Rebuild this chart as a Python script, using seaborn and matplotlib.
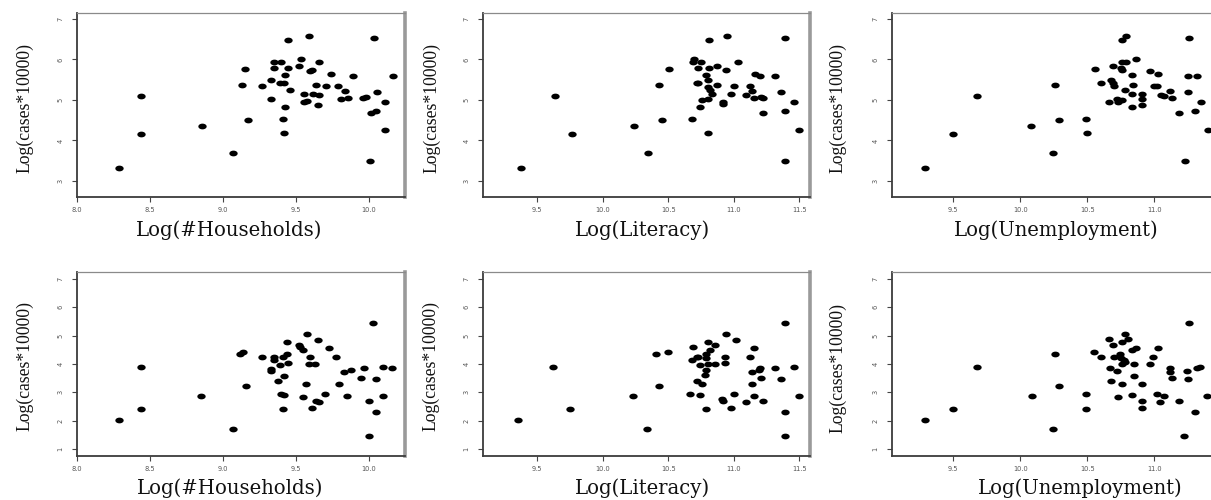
import numpy as np
import matplotlib
matplotlib.use("Agg")
import matplotlib.pyplot as plt
import seaborn as sns
from matplotlib.path import Path

# ---------------- data ----------------
# Top row: Log(cases*10000), first outcome; bottom row: second outcome
hh_top_x = [8.29, 8.44, 8.44, 8.86, 9.07, 9.13, 9.15, 9.17, 9.27, 9.33, 9.33, 9.35, 9.35, 9.40,
            9.39, 9.42, 9.43, 9.43, 9.41, 9.42, 9.45, 9.45, 9.46, 9.52, 9.54, 9.56, 9.56, 9.58,
            9.59, 9.60, 9.61, 9.62, 9.64, 9.65, 9.66, 9.66, 9.71, 9.74, 9.79, 9.81, 9.84, 9.86,
            9.89, 9.96, 9.98, 10.01, 10.02, 10.04, 10.05, 10.06, 10.11, 10.11, 10.17]
hh_top_y = [3.31, 4.17, 5.10, 4.37, 3.68, 5.38, 5.77, 4.50, 5.34, 5.49, 5.02, 5.94, 5.80, 5.94,
            5.41, 5.43, 5.62, 4.83, 4.53, 4.18, 6.48, 5.80, 5.24, 5.85, 6.00, 5.15, 4.94, 4.98,
            6.57, 5.71, 5.73, 5.15, 5.38, 4.88, 5.94, 5.13, 5.35, 5.64, 5.35, 5.03, 5.22, 5.06,
            5.60, 5.06, 5.08, 3.49, 4.67, 6.54, 4.72, 5.19, 4.96, 4.25, 5.59]

lit_top_x = [9.38, 9.64, 9.77, 10.24, 10.35, 10.43, 10.45, 10.51, 10.68, 10.69, 10.70, 10.72,
             10.73, 10.73, 10.75, 10.74, 10.76, 10.79, 10.80, 10.80, 10.80, 10.81, 10.81, 10.80,
             10.82, 10.83, 10.87, 10.87, 10.92, 10.92, 10.94, 10.95, 10.98, 11.00, 11.03, 11.09,
             11.12, 11.14, 11.15, 11.16, 11.20, 11.21, 11.22, 11.22, 11.31, 11.36, 11.39, 11.39,
             11.39, 11.46, 11.50]
lit_top_y = [3.31, 5.10, 4.17, 4.37, 3.68, 5.38, 4.50, 5.77, 4.53, 5.94, 6.00, 5.41, 5.43, 5.80,
             5.94, 4.83, 4.99, 5.62, 5.49, 5.33, 5.02, 6.48, 5.80, 4.19, 5.24, 5.15, 5.85, 5.38,
             4.94, 4.90, 5.73, 6.57, 5.15, 5.35, 5.94, 5.13, 5.35, 5.22, 5.06, 5.64, 5.60, 5.08,
             5.06, 4.67, 5.59, 5.19, 3.49, 6.54, 4.72, 4.96, 4.25]

un_top_x = [9.29, 9.50, 9.68, 10.08, 10.24, 10.26, 10.29, 10.49, 10.50, 10.555, 10.60, 10.66,
            10.68, 10.69, 10.70, 10.69, 10.72, 10.73, 10.76, 10.75, 10.76, 10.76, 10.79, 10.76,
            10.79, 10.78, 10.83, 10.84, 10.86, 10.83, 10.83, 10.91, 10.91, 10.91, 10.97, 11.03,
            11.00, 11.02, 11.05, 11.07, 11.12, 11.13, 11.18, 11.23, 11.25, 11.25, 11.26, 11.30,
            11.32, 11.35, 11.40]
un_top_y = [3.31, 4.17, 5.10, 4.37, 3.68, 5.38, 4.50, 4.53, 4.18, 5.77, 5.43, 4.94, 5.49, 5.41,
            5.35, 5.85, 5.02, 4.94, 4.99, 5.80, 5.75, 6.48, 6.57, 5.94, 5.94, 5.24, 5.62, 5.38,
            6.00, 5.15, 4.83, 5.15, 5.03, 4.88, 5.71, 5.64, 5.35, 5.35, 5.13, 5.09, 5.22, 5.06,
            4.67, 3.49, 5.59, 5.19, 6.54, 4.72, 5.59, 4.96, 4.25]

hh_bot_x = [8.29, 8.44, 8.44, 8.85, 9.07, 9.12, 9.14, 9.16, 9.27, 9.33, 9.33, 9.35, 9.35, 9.38,
            9.39, 9.40, 9.41, 9.42, 9.42, 9.41, 9.44, 9.44, 9.45, 9.52, 9.53, 9.55, 9.55, 9.57,
            9.58, 9.59, 9.60, 9.61, 9.63, 9.64, 9.65, 9.66, 9.70, 9.73, 9.78, 9.80, 9.83, 9.85,
            9.88, 9.95, 9.97, 10.00, 10.00, 10.03, 10.05, 10.05, 10.10, 10.10, 10.16]
hh_bot_y = [2.02, 2.42, 3.88, 2.88, 1.69, 4.36, 4.44, 3.22, 4.24, 3.81, 3.76, 4.26, 4.14, 3.41,
            3.95, 2.94, 4.26, 3.59, 2.89, 2.40, 4.76, 4.35, 4.02, 4.67, 4.60, 4.49, 2.82, 3.31,
            5.05, 4.00, 4.25, 2.45, 3.99, 2.69, 4.86, 2.65, 2.94, 4.55, 4.25, 3.31, 3.72, 2.87,
            3.78, 3.51, 3.87, 1.47, 2.71, 5.46, 2.32, 3.46, 3.88, 2.87, 3.86]

lit_bot_x = [9.36, 9.62, 9.75, 10.23, 10.34, 10.41, 10.43, 10.50, 10.67, 10.68, 10.69, 10.72,
             10.72, 10.73, 10.74, 10.74, 10.76, 10.78, 10.79, 10.79, 10.80, 10.79, 10.80, 10.79,
             10.82, 10.86, 10.86, 10.91, 10.92, 10.93, 10.94, 10.93, 10.98, 11.00, 11.02, 11.09,
             11.12, 11.14, 11.14, 11.15, 11.15, 11.19, 11.20, 11.21, 11.22, 11.31, 11.36, 11.39,
             11.39, 11.39, 11.46, 11.50]
lit_bot_y = [2.02, 3.88, 2.42, 2.88, 1.69, 4.35, 3.22, 4.44, 2.94, 4.14, 4.59, 3.41, 4.24, 4.26,
             3.95, 2.89, 3.31, 3.60, 3.80, 4.34, 4.76, 2.40, 4.00, 4.22, 4.48, 4.67, 4.00, 2.78,
             2.71, 4.25, 5.05, 4.02, 2.45, 2.94, 4.86, 2.65, 4.25, 3.72, 3.31, 4.55, 2.87, 3.78,
             3.87, 3.51, 2.71, 3.86, 3.46, 1.47, 5.46, 2.32, 3.88, 2.87]

un_bot_x = [9.29, 9.50, 9.68, 10.09, 10.24, 10.26, 10.29, 10.49, 10.49, 10.55, 10.60, 10.66,
            10.67, 10.68, 10.69, 10.70, 10.72, 10.73, 10.74, 10.76, 10.75, 10.76, 10.76, 10.77,
            10.78, 10.80, 10.78, 10.83, 10.83, 10.85, 10.86, 10.85, 10.91, 10.91, 10.91, 10.97,
            10.99, 11.02, 11.03, 11.04, 11.07, 11.12, 11.12, 11.13, 11.18, 11.24, 11.22, 11.25,
            11.26, 11.30, 11.32, 11.34, 11.39]
un_bot_y = [2.02, 2.42, 3.88, 2.88, 1.69, 4.35, 3.22, 2.94, 2.40, 4.44, 4.25, 4.89, 3.85, 3.41,
            4.67, 4.24, 3.75, 2.82, 4.35, 4.76, 4.22, 4.00, 3.31, 4.14, 5.05, 4.87, 4.06, 4.49,
            2.89, 4.00, 4.58, 3.59, 3.31, 2.71, 2.45, 4.00, 4.25, 2.94, 4.55, 2.65, 2.87, 3.87,
            3.72, 3.51, 2.71, 3.76, 1.47, 3.46, 5.46, 2.32, 3.86, 3.88, 2.87]

x_labels = ["Log(#Households)", "Log(Literacy)", "Log(Unemployment)"]
y_label = "Log(cases*10000)"
hh_ticks = [8.0, 8.5, 9.0, 9.5, 10.0]
lit_ticks = [9.5, 10.0, 10.5, 11.0, 11.5]
un_ticks = [9.5, 10.0, 10.5, 11.0]
top_yticks = [3, 4, 5, 6, 7]
bot_yticks = [1, 2, 3, 4, 5, 6, 7]

# ---------------- styling / layout ----------------
sns.set_style("white")
plt.rcParams["font.family"] = ["DejaVu Sans"]

W, H = 1211, 500
fig = plt.figure(figsize=(W / 100, H / 100), dpi=100)
fig.patch.set_facecolor("white")


def add_ax(x0, x1, y0, y1):
    return fig.add_axes([x0 / W, 1 - y1 / H, (x1 - x0) / W, (y1 - y0) / H])


t = np.linspace(0, 2 * np.pi, 48)
ellipse = Path(np.column_stack([1.45 * np.cos(t), np.sin(t)]), closed=True)

col_px = [(77, 405), (483, 810), (892, 1225)]
row_px = [(13, 197), (272, 456)]
col_xlim = [(8.0, 10.25), (9.09, 11.58), (9.042, 11.527)]
row_ylim = [(2.605, 7.148), (0.753, 7.247)]
col_ticks = [hh_ticks, lit_ticks, un_ticks]
row_yticks = [top_yticks, bot_yticks]

data = [[(hh_top_x, hh_top_y), (lit_top_x, lit_top_y), (un_top_x, un_top_y)],
        [(hh_bot_x, hh_bot_y), (lit_bot_x, lit_bot_y), (un_bot_x, un_bot_y)]]

xlabel_pos = [[(229, 230), (642, 230), (1056, 230)],
              [(230, 488), (642, 488), (1080, 488)]]
ylabel_pos = [[(25, 108), (432, 108), (838, 108)],
              [(25, 366), (431, 366), (838, 368)]]

for r in range(2):
    for c in range(3):
        x0, x1 = col_px[c]
        y0, y1 = row_px[r]
        ax = add_ax(x0, x1, y0, y1)
        xs, ys = data[r][c]
        sns.scatterplot(x=xs, y=ys, ax=ax, marker=ellipse, s=36, color="black",
                        edgecolor="black", linewidth=0, legend=False, zorder=3)
        ax.set_xlim(*col_xlim[c])
        ax.set_ylim(*row_ylim[r])
        ax.set_xticks(col_ticks[c])
        ax.set_xticklabels([f"{v:.1f}" for v in col_ticks[c]])
        ax.set_yticks(row_yticks[r])
        ax.set_yticklabels([str(v) for v in row_yticks[r]], rotation=90, va="center")
        ax.set_xlabel("")
        ax.set_ylabel("")
        ax.tick_params(axis="both", which="both", bottom=True, left=True, direction="out",
                       length=3.6, width=0.8, color="#444444", labelsize=4.8,
                       labelcolor="#555555")
        ax.tick_params(axis="x", pad=3.5)
        ax.tick_params(axis="y", pad=6)
        ax.spines["left"].set(color="#3c3c3c", linewidth=1.3)
        ax.spines["bottom"].set(color="#3c3c3c", linewidth=1.3)
        ax.spines["top"].set(color="#8a8a8a", linewidth=0.9)
        ax.spines["right"].set(color="#9a9a9a", linewidth=2.6)
        ax.set_facecolor("white")

        lx, ly = xlabel_pos[r][c]
        fig.text(lx / W, 1 - ly / H, x_labels[c], ha="center", va="center",
                 fontsize=14.1, family=["DejaVu Serif"], color="#111111")
        yx, yy = ylabel_pos[r][c]
        fig.text(yx / W, 1 - yy / H, y_label, ha="center", va="center", rotation=90,
                 fontsize=12.7, family=["Liberation Serif"], color="#111111")

fig.savefig("out.png", dpi=100, facecolor="white")
